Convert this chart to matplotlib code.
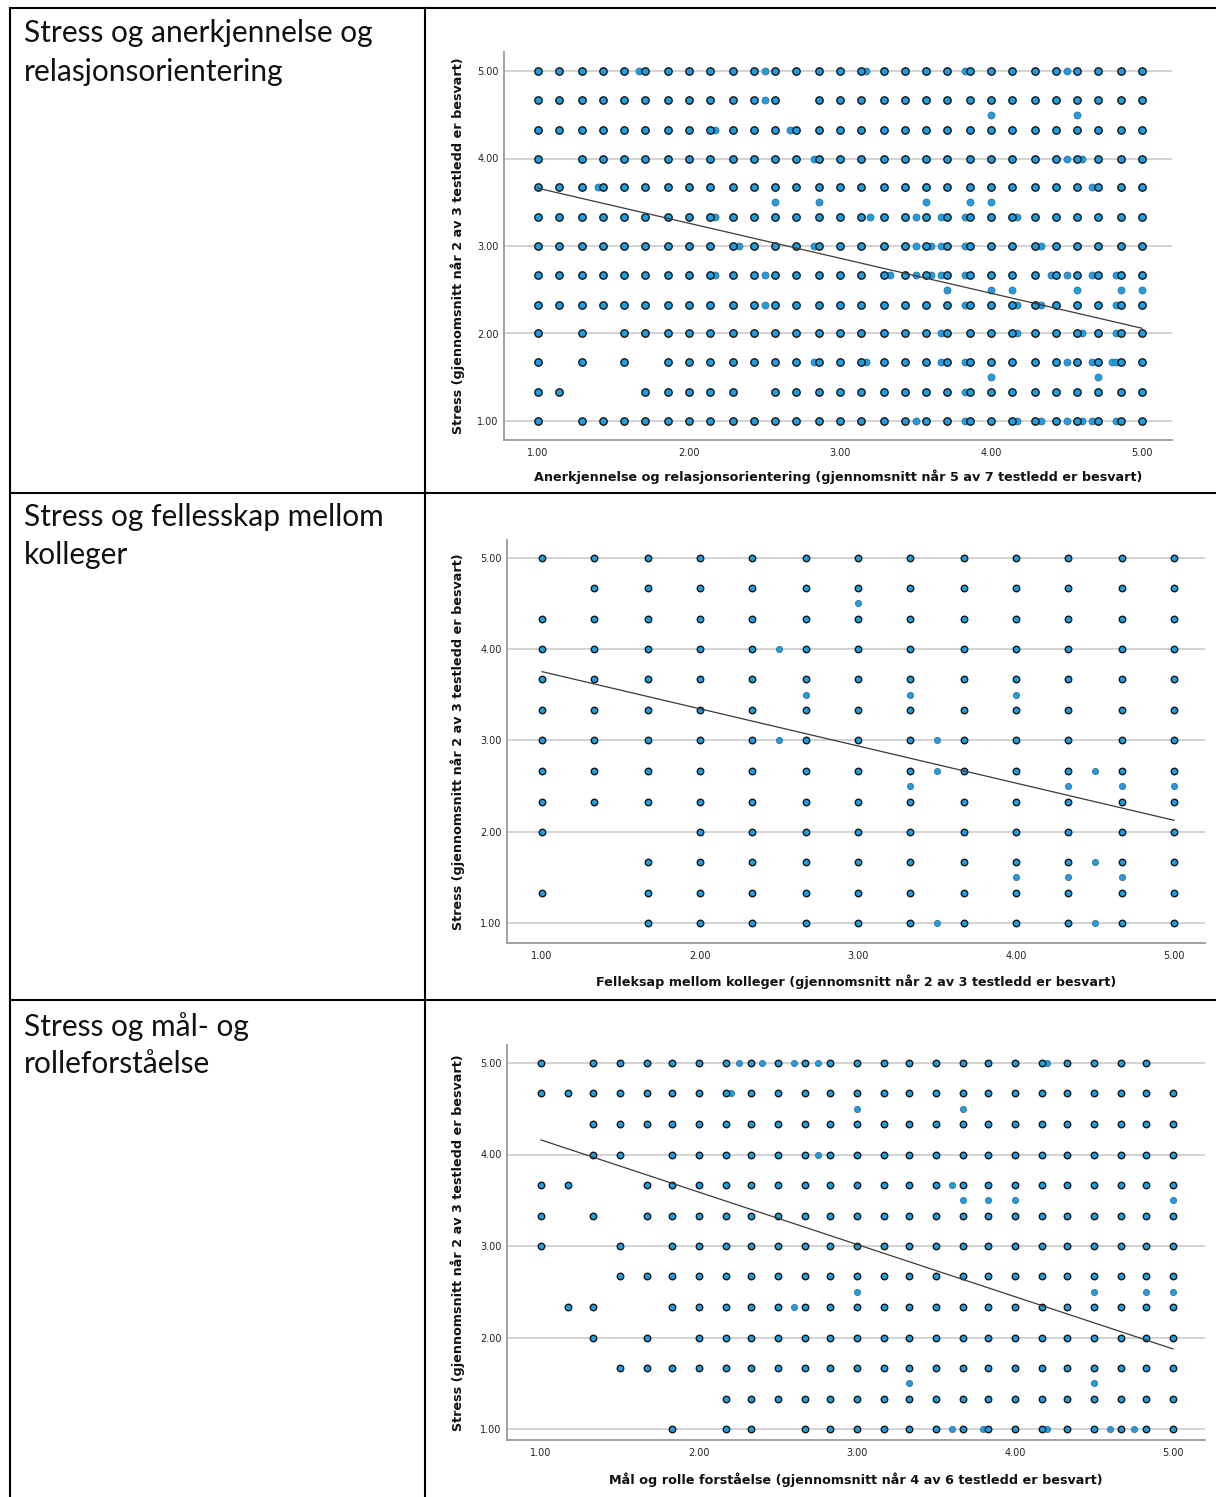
import matplotlib
matplotlib.use('Agg')
import matplotlib.pyplot as plt

# ---------------- DATA ----------------
ROW_TITLES = [["Stress og anerkjennelse og", "relasjonsorientering"],
              ["Stress og fellesskap mellom", "kolleger"],
              ["Stress og mål- og", "rolleforståelse"]]

Y_LABEL = "Stress (gjennomsnitt når 2 av 3 testledd er besvart)"
X_LABELS = ["Anerkjennelse og relasjonsorientering (gjennomsnitt når 5 av 7 testledd er besvart)",
            "Felleksap mellom kolleger (gjennomsnitt når 2 av 3 testledd er besvart)",
            "Mål og rolle forståelse (gjennomsnitt når 4 av 6 testledd er besvart)"]
TICKS = [1.00, 2.00, 3.00, 4.00, 5.00]

Y_LEVELS = [5.00, 4.67, 4.33, 4.00, 3.67, 3.33, 3.00, 2.67, 2.33, 2.00, 1.67, 1.33, 1.00]

# Panel 1: x levels (mean of 7 items)
P1_X = [1.00, 1.14, 1.29, 1.43, 1.57, 1.71, 1.86, 2.00, 2.14, 2.29, 2.43, 2.57, 2.71, 2.86,
        3.00, 3.14, 3.29, 3.43, 3.57, 3.71, 3.86, 4.00, 4.14, 4.29, 4.43, 4.57, 4.71, 4.86, 5.00]
P1_GRID = [
    "#############################",
    "############.################",
    "#############################",
    "#.###########################",
    "#############################",
    "#############################",
    "#############################",
    "#############################",
    "#############################",
    "#.#.#########################",
    "#.#.#.#######################",
    "##...#####.##################",
    "#.###########################",
]
P1_EXTRA_X = [1.67, 2.50, 3.17, 3.83, 4.50,
              2.50,
              4.00, 4.57,
              2.17, 2.67,
              2.83, 4.50, 4.60,
              1.40, 4.67,
              2.57, 2.86, 3.57, 3.86, 4.00,
              2.17, 3.20, 3.50, 3.67, 3.83, 4.17,
              2.33, 2.83, 3.50, 3.60, 3.67, 3.83, 4.33,
              2.17, 2.50, 3.33, 3.50, 3.60, 3.67, 3.83, 4.40, 4.50, 4.67, 4.83,
              3.71, 4.00, 4.14, 4.57, 4.86, 5.00,
              2.50, 3.83, 4.17, 4.33, 4.83,
              3.67, 4.17, 4.60, 4.83,
              2.83, 3.17, 3.67, 3.83, 4.50, 4.67, 4.80, 4.83,
              4.00, 4.71,
              3.83,
              3.50, 3.83, 4.17, 4.33, 4.50, 4.60, 4.67, 4.83]
P1_EXTRA_Y = [5.00] * 5 + [4.67] * 1 + [4.50] * 2 + [4.33] * 2 + [4.00] * 3 + [3.67] * 2 + \
             [3.50] * 5 + [3.33] * 6 + [3.00] * 7 + [2.67] * 11 + [2.50] * 6 + [2.33] * 5 + \
             [2.00] * 4 + [1.67] * 8 + [1.50] * 2 + [1.33] * 1 + [1.00] * 8
P1_FIT = (4.06, -0.40)   # intercept, slope

# Panel 2: x levels (mean of 3 items)
P2_X = [1.00, 1.33, 1.67, 2.00, 2.33, 2.67, 3.00, 3.33, 3.67, 4.00, 4.33, 4.67, 5.00]
P2_GRID = [
    "#############",
    ".############",
    "#############",
    "#############",
    "#############",
    "#############",
    "#############",
    "#############",
    "#############",
    "#..##########",
    "..###########",
    "#.###########",
    "..###########",
]
P2_EXTRA_X = [3.00, 2.50, 2.67, 3.33, 4.00, 2.50, 3.50, 3.50, 4.50,
              3.33, 4.33, 4.67, 5.00, 4.50, 4.00, 4.33, 4.67, 3.50, 4.50]
P2_EXTRA_Y = [4.50, 4.00, 3.50, 3.50, 3.50, 3.00, 3.00, 2.67, 2.67,
              2.50, 2.50, 2.50, 2.50, 1.67, 1.50, 1.50, 1.50, 1.00, 1.00]
P2_FIT = (4.16, -0.407)

# Panel 3: x levels (mean of 6 items)
P3_X = [1.00, 1.17, 1.33, 1.50, 1.67, 1.83, 2.00, 2.17, 2.33, 2.50, 2.67, 2.83, 3.00,
        3.17, 3.33, 3.50, 3.67, 3.83, 4.00, 4.17, 4.33, 4.50, 4.67, 4.83, 5.00]
P3_GRID = [
    "#.######################.",
    "#########################",
    "..#######################",
    "..##.####################",
    "##..#####################",
    "#.#.#####################",
    "#..#.####################",
    "...######################",
    ".##..####################",
    "..#.#.###################",
    "...######################",
    ".......##################",
    ".....#.##.###############",
]
P3_EXTRA_X = [2.25, 2.40, 2.60, 2.75, 4.20, 2.20, 3.00, 3.67, 2.75, 3.60, 3.67, 3.83, 4.00, 5.00,
              3.00, 4.50, 4.83, 5.00, 3.33, 4.50, 2.60, 3.80, 3.60, 4.20, 4.60, 4.75]
P3_EXTRA_Y = [5.00, 5.00, 5.00, 5.00, 5.00, 4.67, 4.50, 4.50, 4.00, 3.67, 3.50, 3.50, 3.50, 3.50,
              2.50, 2.50, 2.50, 2.50, 1.50, 1.50, 2.33, 1.00, 1.00, 1.00, 1.00, 1.00]
P3_FIT = (4.73, -0.571)

PANELS = [
    (P1_X, P1_GRID, P1_EXTRA_X, P1_EXTRA_Y, P1_FIT),
    (P2_X, P2_GRID, P2_EXTRA_X, P2_EXTRA_Y, P2_FIT),
    (P3_X, P3_GRID, P3_EXTRA_X, P3_EXTRA_Y, P3_FIT),
]

# ---------------- LAYOUT ----------------
W, H = 1216, 1497
fig = plt.figure(figsize=(W / 100, H / 100), dpi=100)
fig.patch.set_facecolor('white')

ov = fig.add_axes([0, 0, 1, 1])
ov.set_xlim(0, W)
ov.set_ylim(H, 0)
ov.axis('off')
lw_tab = 1.5
ov.plot([10, W], [8, 8], color='black', lw=lw_tab)
ov.plot([10, 10], [8, H], color='black', lw=lw_tab)
ov.plot([425, 425], [8, H], color='black', lw=lw_tab)
ov.plot([10, W], [493, 493], color='black', lw=lw_tab)
ov.plot([10, W], [1000, 1000], color='black', lw=lw_tab)

title_base = [(42, 81), (526, 564), (1036, 1073)]
for lines, ys in zip(ROW_TITLES, title_base):
    for t, yb in zip(lines, ys):
        ov.text(24, yb, t, fontsize=21.5, family='Lato', va='baseline', ha='left', color='#111111')

BOXES = [
    dict(box=(504, 52, 1172, 440), x1=538, xu=151.0, y1=421, yu=87.5, s=28, lab_y=477),
    dict(box=(507, 540, 1205, 943), x1=542, xu=158.0, y1=923, yu=91.3, s=22, lab_y=982),
    dict(box=(507, 1045, 1205, 1440), x1=541, xu=158.0, y1=1429, yu=91.5, s=22, lab_y=1480),
]

BLUE = '#1e9fe3'
for i, (px, grid, ex, ey, fit) in enumerate(PANELS):
    b = BOXES[i]
    x0, y0, x1, y1 = b['box']
    ax = fig.add_axes([x0 / W, 1 - y1 / H, (x1 - x0) / W, (y1 - y0) / H])
    ax.set_facecolor('white')
    ax.set_xlim(1 - (b['x1'] - x0) / b['xu'], 1 + (x1 - b['x1']) / b['xu'])
    ax.set_ylim(1 - (y1 - b['y1']) / b['yu'], 1 + (b['y1'] - y0) / b['yu'])

    gx, gy = [], []
    for yv, row in zip(Y_LEVELS, grid):
        for xv, ch in zip(px, row):
            if ch == '#':
                gx.append(xv)
                gy.append(yv)
    ax.scatter(ex, ey, s=b['s'] * 0.9, c=BLUE, edgecolors='#3b6f96', linewidths=0.6, zorder=3)
    ax.scatter(gx, gy, s=b['s'], c=BLUE, edgecolors='#151515', linewidths=1.0, zorder=4)

    xs = [min(px), max(px)]
    ax.plot(xs, [fit[0] + fit[1] * v for v in xs], color='#3a3a3a', lw=0.9, zorder=5)

    ax.set_xticks(TICKS)
    ax.set_yticks(TICKS)
    ax.set_xticklabels(['%.2f' % t for t in TICKS])
    ax.set_yticklabels(['%.2f' % t for t in TICKS])
    ax.tick_params(length=0, labelsize=7, colors='#222222')
    ax.tick_params(axis='x', pad=6)
    ax.tick_params(axis='y', pad=4)
    ax.yaxis.grid(True, color='#cccccc', lw=1.2)
    ax.set_axisbelow(True)
    for sp in ('top', 'right'):
        ax.spines[sp].set_visible(False)
    for sp in ('left', 'bottom'):
        ax.spines[sp].set_color('#9a9a9a')
        ax.spines[sp].set_linewidth(1.3)

    ov.text((x0 + x1) / 2, b['lab_y'], X_LABELS[i], fontsize=9.2, fontweight='bold',
            ha='center', va='center', color='#111111')
    ov.text(458, (y0 + y1) / 2, Y_LABEL, fontsize=9.2, fontweight='bold', rotation=90,
            ha='center', va='center', color='#111111')

fig.savefig('out.png', dpi=100, facecolor='white')
